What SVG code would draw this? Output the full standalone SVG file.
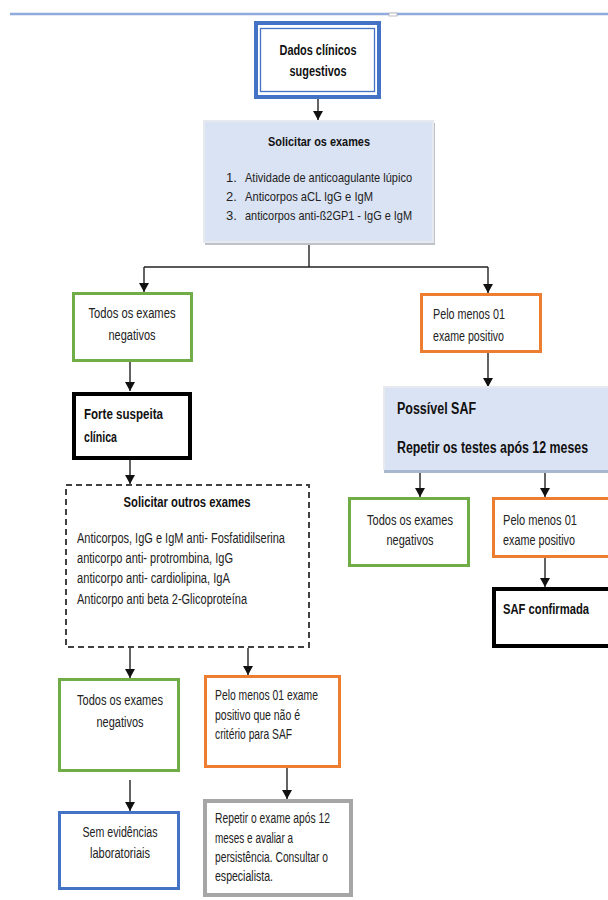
<svg xmlns="http://www.w3.org/2000/svg" width="608" height="900" viewBox="0 0 608 900">
<defs>
<marker id="ah" markerUnits="userSpaceOnUse" markerWidth="9" markerHeight="10" refX="9" refY="5" orient="auto">
<path d="M0,0 L9,5 L0,10 z" fill="#111"/>
</marker>
<style>
text{font-family:"Liberation Sans Narrow","Liberation Sans",Arial,sans-serif;fill:#222}
.r{font-size:14px}
.s{font-size:13px}
.b{font-weight:bold;fill:#111}
.m{text-anchor:middle}
.c{stroke:#222;stroke-width:1.4;fill:none}
.ca{stroke:#222;stroke-width:1.4;fill:none;marker-end:url(#ah)}
.green{fill:#fff;stroke:#70AD47;stroke-width:3}
.orange{fill:#fff;stroke:#ED7D31;stroke-width:3}
.blue{fill:#fff;stroke:#4472C4;stroke-width:3}
.black{fill:#fff;stroke:#000;stroke-width:4}
.grey{fill:#fff;stroke:#A6A6A6;stroke-width:4}
.lb{fill:#DAE3F3;stroke:#E6E9EE;stroke-width:2}
</style>
</defs>
<rect width="608" height="900" fill="#fff"/>
<g id="topline">
<line x1="10" y1="14" x2="608" y2="14" stroke="#8FAADC" stroke-width="2.5"/>
<rect x="389" y="13" width="8" height="3" fill="#fff" stroke="#B0B0B0" stroke-width="0.8"/>
</g>
<g id="connectors">
<line class="ca" x1="318" y1="99" x2="318" y2="120"/>
<polyline class="c" points="309,245 309,267"/>
<polyline class="ca" points="144,267 144,292"/>
<polyline class="c" points="144,267 488,267"/>
<polyline class="ca" points="488,267 488,293"/>
<line class="ca" x1="130" y1="361" x2="130" y2="391"/>
<line class="ca" x1="130" y1="460" x2="130" y2="484"/>
<line class="ca" x1="488" y1="353" x2="488" y2="387"/>
<line class="ca" x1="420" y1="473" x2="420" y2="497"/>
<line class="ca" x1="545" y1="473" x2="545" y2="497"/>
<line class="ca" x1="545" y1="558" x2="545" y2="587"/>
<line class="ca" x1="130" y1="648" x2="130" y2="678"/>
<line class="ca" x1="248" y1="648" x2="248" y2="675"/>
<line class="ca" x1="130" y1="780" x2="130" y2="811"/>
<line class="ca" x1="287" y1="768" x2="287" y2="799"/>
</g>
<g id="dados">
<rect x="256" y="23" width="123" height="74" fill="#fff" stroke="#4472C4" stroke-width="4"/>
<rect x="260.5" y="28.5" width="114" height="63" fill="none" stroke="#4472C4" stroke-width="1.3"/>
<text class="r b m" x="318" y="55" textLength="77" lengthAdjust="spacingAndGlyphs">Dados clínicos</text>
<text class="r b m" x="318" y="76" textLength="57" lengthAdjust="spacingAndGlyphs">sugestivos</text>
</g>
<g id="solicitar">
<rect x="205" y="123" width="230" height="122" fill="#BFC3C9"/>
<rect class="lb" x="204" y="121" width="229" height="121"/>
<text class="s b m" x="319" y="146" textLength="102" lengthAdjust="spacingAndGlyphs">Solicitar os exames</text>
<text class="s" x="226" y="182">1.</text>
<text class="s" x="245" y="182" textLength="167" lengthAdjust="spacingAndGlyphs">Atividade de anticoagulante lúpico</text>
<text class="s" x="226" y="201">2.</text>
<text class="s" x="245" y="201" textLength="128" lengthAdjust="spacingAndGlyphs">Anticorpos aCL IgG e IgM</text>
<text class="s" x="226" y="220">3.</text>
<text class="s" x="245" y="220" textLength="167" lengthAdjust="spacingAndGlyphs">anticorpos anti-ß2GP1 - IgG e IgM</text>
</g>
<g id="neg1">
<rect class="green" x="73.5" y="293.5" width="118" height="67"/>
<text class="r m" x="132" y="318" textLength="87" lengthAdjust="spacingAndGlyphs">Todos os exames</text>
<text class="r m" x="132" y="340" textLength="47" lengthAdjust="spacingAndGlyphs">negativos</text>
</g>
<g id="pos1">
<rect class="orange" x="421.5" y="294.5" width="119" height="57"/>
<text class="r" x="433" y="319" textLength="72" lengthAdjust="spacingAndGlyphs">Pelo menos 01</text>
<text class="r" x="433" y="341" textLength="71" lengthAdjust="spacingAndGlyphs">exame positivo</text>
</g>
<g id="forte">
<rect class="black" x="74" y="394" width="116" height="64"/>
<text class="r b" x="84" y="419" textLength="79" lengthAdjust="spacingAndGlyphs">Forte suspeita</text>
<text class="r b" x="84" y="442" textLength="33" lengthAdjust="spacingAndGlyphs">clínica</text>
</g>
<g id="possivel">
<rect x="384" y="387" width="224" height="86" fill="#A7B8CE"/>
<path d="M608,386 H383 V470 H608 Z" fill="#DAE3F3"/>
<path d="M608,387 H384 V470" fill="none" stroke="#E6E9EE" stroke-width="2"/>
<text class="b" style="font-size:17px" transform="translate(397,414) scale(0.7,1)" x="0" y="0" textLength="112.9" lengthAdjust="spacingAndGlyphs">Possível SAF</text>
<text class="b" style="font-size:17px" transform="translate(397,453) scale(0.7,1)" x="0" y="0" textLength="272.9" lengthAdjust="spacingAndGlyphs">Repetir os testes após 12 meses</text>
</g>
<g id="outros">
<rect x="66" y="485" width="243" height="162" fill="#fff" stroke="#404040" stroke-width="2" stroke-dasharray="6,4"/>
<text class="r b m" x="187" y="507" textLength="127" lengthAdjust="spacingAndGlyphs">Solicitar outros exames</text>
<text class="r" x="77" y="543" textLength="208" lengthAdjust="spacingAndGlyphs">Anticorpos, IgG e IgM anti- Fosfatidilserina</text>
<text class="r" x="77" y="563" textLength="156" lengthAdjust="spacingAndGlyphs">anticorpo anti- protrombina, IgG</text>
<text class="r" x="77" y="583" textLength="153" lengthAdjust="spacingAndGlyphs">anticorpo anti- cardiolipina,  IgA</text>
<text class="r" x="77" y="604" textLength="170" lengthAdjust="spacingAndGlyphs">Anticorpo anti beta 2-Glicoproteína</text>
</g>
<g id="neg2">
<rect class="green" x="349.5" y="498.5" width="119" height="67"/>
<text class="r m" x="410" y="525" textLength="86" lengthAdjust="spacingAndGlyphs">Todos os exames</text>
<text class="r m" x="410" y="545" textLength="47" lengthAdjust="spacingAndGlyphs">negativos</text>
</g>
<g id="pos2">
<path d="M608,498.5 H493.5 V556.5 H608 Z" fill="#fff"/>
<path d="M608,498.5 H493.5 V556.5 H608" fill="none" stroke="#ED7D31" stroke-width="3"/>
<text class="r" x="503" y="525" textLength="74" lengthAdjust="spacingAndGlyphs">Pelo menos 01</text>
<text class="r" x="503" y="545" textLength="72" lengthAdjust="spacingAndGlyphs">exame positivo</text>
</g>
<g id="confirmada">
<path d="M608,589 H494 V646 H608 Z" fill="#fff"/>
<path d="M608,589 H494 V646 H608" fill="none" stroke="#000" stroke-width="4"/>
<text class="b" style="font-size:15px" transform="translate(503,614) scale(0.7,1)" x="0" y="0" textLength="122.9" lengthAdjust="spacingAndGlyphs">SAF confirmada</text>
</g>
<g id="neg3">
<rect class="green" x="59.5" y="679.5" width="119" height="91"/>
<text class="r m" x="120" y="705" textLength="86" lengthAdjust="spacingAndGlyphs">Todos os exames</text>
<text class="r m" x="120" y="727" textLength="47" lengthAdjust="spacingAndGlyphs">negativos</text>
</g>
<g id="pos3">
<rect class="orange" x="205.5" y="676.5" width="134" height="90"/>
<text class="r" x="215" y="700" textLength="103" lengthAdjust="spacingAndGlyphs">Pelo menos 01 exame</text>
<text class="r" x="215" y="720" textLength="85" lengthAdjust="spacingAndGlyphs">positivo que não é</text>
<text class="r" x="215" y="739" textLength="77" lengthAdjust="spacingAndGlyphs">critério para SAF</text>
</g>
<g id="sem">
<rect class="blue" x="59.5" y="812.5" width="119" height="76"/>
<text class="r m" x="120" y="837" textLength="75" lengthAdjust="spacingAndGlyphs">Sem evidências</text>
<text class="r m" x="120" y="858" textLength="60" lengthAdjust="spacingAndGlyphs">laboratoriais</text>
</g>
<g id="repetir">
<rect class="grey" x="205" y="801" width="146" height="94"/>
<text class="r" x="215" y="823" textLength="115" lengthAdjust="spacingAndGlyphs">Repetir o exame após 12</text>
<text class="r" x="215" y="843" textLength="78" lengthAdjust="spacingAndGlyphs">meses e avaliar a</text>
<text class="r" x="215" y="862" textLength="113" lengthAdjust="spacingAndGlyphs">persistência. Consultar o</text>
<text class="r" x="215" y="881" textLength="58" lengthAdjust="spacingAndGlyphs">especialista.</text>
</g>
</svg>
